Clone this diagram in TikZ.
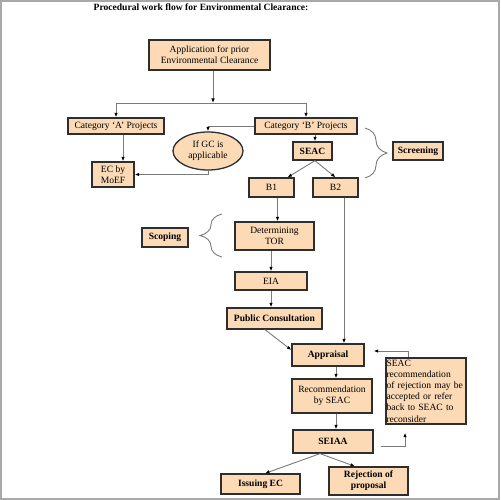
\documentclass[tikz,border=0pt]{standalone}
\usepackage{fontspec}
\setmainfont{Liberation Serif}
\usetikzlibrary{arrows.meta,shapes.geometric,decorations.pathreplacing}
\definecolor{peach}{HTML}{FCDAB5}
\definecolor{boxline}{HTML}{2E2E2E}
\definecolor{connc}{HTML}{7A7A7A}
\definecolor{framec}{HTML}{A9A9A9}
\begin{document}
\begin{tikzpicture}[x=1bp,y=-1bp,
  box/.style={draw=boxline,line width=1.3bp,fill=peach,inner sep=0pt,align=center,font=\fontsize{9.6}{11}\selectfont},
  bbox/.style={box,font=\fontsize{9.6}{11}\selectfont\bfseries},
  conn/.style={draw=connc,line width=0.9bp},
  arr/.style={conn,-{Latex[length=4.5bp,width=3.5bp,color=black]}},
  brc/.style={draw=connc,line width=0.9bp,decorate,decoration={brace,amplitude=22bp}}]
\useasboundingbox (0,0) rectangle (500,500);
\draw[framec,line width=2bp] (1,1) rectangle (498.5,498.5);

\node[font=\fontsize{9.6}{11}\selectfont\bfseries,anchor=base] (title) at (201,10.5) {Procedural work flow for Environmental Clearance:};

\node[box,minimum width=121bp,minimum height=30bp] (app) at (209.5,55) {Application for prior\\Environmental Clearance};
\node[box,minimum width=96bp,minimum height=16bp] (catA) at (116,126) {Category ‘A’ Projects};
\node[box,minimum width=102bp,minimum height=16bp] (catB) at (306,126) {Category ‘B’ Projects};
\node[box,ellipse,minimum width=70bp,minimum height=38bp] (gc) at (208,151) {If GC is\\applicable};
\node[box,minimum width=42bp,minimum height=25bp] (ec) at (113,174.5) {EC by\\MoEF};
\node[bbox,minimum width=39bp,minimum height=18bp] (seac) at (312.5,151) {SEAC};
\node[box,minimum width=45bp,minimum height=19bp] (b1) at (271.5,187.5) {B1};
\node[box,minimum width=45bp,minimum height=19bp] (b2) at (335.5,187.5) {B2};
\node[bbox,minimum width=50bp,minimum height=18bp] (scr) at (418,151) {Screening};
\node[box,minimum width=79bp,minimum height=28bp] (tor) at (274.5,236) {Determining\\TOR};
\node[bbox,minimum width=46bp,minimum height=19bp] (scp) at (165,237.5) {Scoping};
\node[box,minimum width=72bp,minimum height=18bp] (eia) at (271,281) {EIA};
\node[bbox,minimum width=95bp,minimum height=21bp] (pc) at (274.5,318.5) {Public Consultation};
\node[bbox,minimum width=72bp,minimum height=22bp] (apr) at (328,355) {Appraisal};
\node[box,minimum width=80bp,minimum height=34bp] (rec) at (332,396) {Recommendation\\by SEAC};
\node[bbox,minimum width=80bp,minimum height=23bp] (seiaa) at (333,441.5) {SEIAA};
\node[bbox,minimum width=79bp,minimum height=20bp] (iss) at (260.5,484) {Issuing EC};
\node[bbox,minimum width=79bp,minimum height=28bp] (rej) at (368.5,481) {Rejection of\\proposal};
\node[box,align=left,text width=79bp,minimum height=66bp,inner xsep=0.5bp,font=\fontsize{9.6}{11.2}\selectfont] (srec) at (426,391) {SEAC\\recommendation\\of rejection may be\\accepted or refer\\back to SEAC to\\reconsider};

% connectors
\coordinate (j1) at (213,103);
\coordinate (jA) at (116,103);
\coordinate (jB) at (306,103);
\draw[arr] (j1 |- app.south) -- (j1);
\draw[conn] (jA) -- (jB);
\draw[arr] (jA) -- (catA.north);
\draw[arr] (jB) -- (catB.north);
\draw[arr] (catB.west) -| (gc.north);
\draw[arr] ([xshift=7bp]catA.south) -- ([xshift=7bp]catA.south |- ec.north);
\draw[arr] (gc.south) |- (ec.east);
\draw[arr] ([xshift=2.5bp]seac.north |- catB.south) -- ([xshift=2.5bp]seac.north);
\draw[arr] ([xshift=2.5bp]seac.south) -- ([xshift=16bp]b1.north);
\draw[arr] ([xshift=2.5bp]seac.south) -- (b2.north);
\draw[arr] ([xshift=6bp]b1.south) -- ([xshift=6bp]b1.south |- tor.north);
\draw[arr] (eia.north |- tor.south) -- (eia.north);
\draw[arr] (eia.south) -- (eia.south |- pc.north);
\draw[arr] ([xshift=-9.5bp]pc.south) -- ([yshift=5bp]apr.west);
\draw[arr] ([xshift=8.5bp]b2.south) -- ([xshift=8.5bp]b2.south |- apr.north);
\draw[arr] ([xshift=8bp]apr.south) -- ([xshift=8bp]apr.south |- rec.north);
\draw[arr] ([xshift=4bp]rec.south) -- ([xshift=4bp]rec.south |- seiaa.north);
\draw[arr] ([xshift=-13bp]seiaa.south) -- ([xshift=4.5bp]iss.north);
\draw[arr] ([xshift=-13bp]seiaa.south) -- ([xshift=-13.5bp]rej.north);
\draw[arr] ([xshift=-18bp]srec.north) |- ([xshift=9bp,yshift=4bp]apr.east);
\draw[arr] ([xshift=7bp,yshift=-4.5bp]seiaa.east) -| ([xshift=-21bp,yshift=-8bp]srec.south);

% braces
\coordinate (scrT) at (365,128);
\coordinate (scrB) at (365,178);
\draw[brc] (scrT) -- (scrB);
\coordinate (scpT) at (222,214);
\coordinate (scpB) at (222,257);
\draw[brc] (scpB) -- (scpT);
\end{tikzpicture}
\end{document}
